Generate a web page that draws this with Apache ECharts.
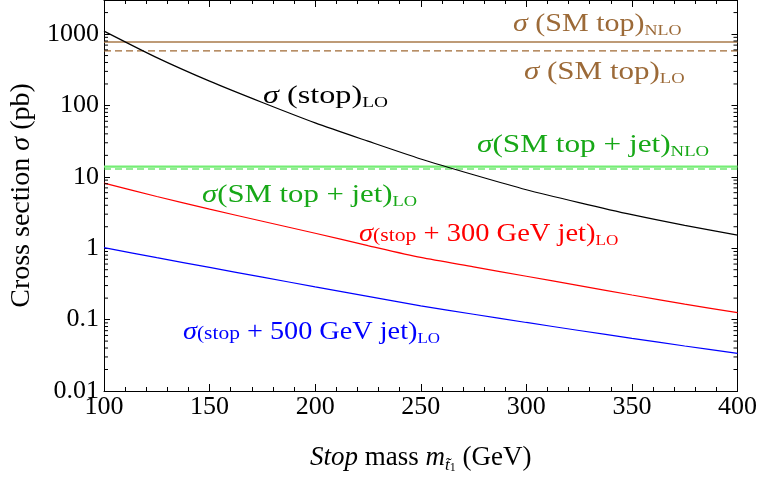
<!DOCTYPE html>
<html><head><meta charset="utf-8">
<script src="https://cdn.jsdelivr.net/npm/echarts@6/dist/echarts.min.js"></script>
<style>html,body{margin:0;padding:0;background:#fff}#c{width:760px;height:479px}</style>
</head><body><div id="c"></div>
<script>
// ---- data ----
const masses = [100,125,150,175,200,225,250,275,300,325,350,375,400];
const stopLO = [1100,468,219,110,57,31.6,17.8,10.7,6.6,4.36,2.95,2.09,1.53];
const stop300LO = [8.18,5.31,3.52,2.39,1.62,1.09,0.743,0.548,0.405,0.299,0.221,0.165,0.125];
const stop500LO = [1.02,0.738,0.538,0.393,0.288,0.212,0.156,0.119,0.0912,0.0704,0.0546,0.0427,0.0337];
const smTopNLO = 775;
const smTopLO = 580;
const smTopJetNLO = 13.9;
const smTopJetLO = 12.9;
const xRange = [100, 400];
const yRange = [0.01, 3000];
const yMajorTicks = [0.01, 0.1, 1, 10, 100, 1000];
const yMinorMultipliers = [2,3,4,5,6,7,8,9];
const yMinorTicks = [];
yMajorTicks.forEach(d => yMinorMultipliers.forEach(k => { const v = +(d*k).toPrecision(3); if (v < yRange[1]) yMinorTicks.push(v); }));

const F = 'Liberation Serif';
const BROWN = '#9c6a38', GREEN_T = '#17a817', RED = '#ff0000', BLUE = '#0000ff';

function rich(color) {
  return {
    s:   {fontFamily:F, fontStyle:'italic', fontSize:25, color, lineHeight:30},
    n:   {fontFamily:F, fontSize:25, color, lineHeight:30},
    m:   {fontFamily:F, fontSize:19, color, lineHeight:24, padding:[4,0,0,0]},
    sub: {fontFamily:F, fontSize:15, color, lineHeight:16, verticalAlign:'bottom'}
  };
}
function label(x, y, text, color, sx) {
  return {type:'text', x, y, scaleX:sx, silent:true, z:100,
    style:{text, rich:rich(color), align:'left', verticalAlign:'middle', fill:color, font:'25px ' + F}};
}
function pairs(ys) { return masses.map((m,i) => [m, ys[i]]); }
function hline(v) { return [[xRange[0], v], [xRange[1], v]]; }

const chart = echarts.init(document.getElementById('c'), null, {renderer:'canvas'});
const tickStyle = {color:'#000', width:1};
chart.setOption({
  animation:false,
  backgroundColor:'#fff',
  grid:{left:101, right:21, top:-1, bottom:86, containLabel:false},
  xAxis:[{
    type:'value', min:xRange[0], max:xRange[1], interval:50, position:'bottom',
    axisLine:{show:true, onZero:false, lineStyle:tickStyle},
    axisTick:{show:true, inside:true, length:7, lineStyle:tickStyle},
    minorTick:{show:true, splitNumber:5, length:4, lineStyle:tickStyle},
    splitLine:{show:false}, minorSplitLine:{show:false},
    axisLabel:{fontFamily:F, fontSize:26, color:'#000', margin:3},
    name:'{i|Stop} mass {i|m}{sub|t\u0303}{sub2|1} (GeV)',
    nameLocation:'middle', nameGap:51,
    nameTextStyle:{fontFamily:F, fontSize:27, color:'#000', lineHeight:32,
      rich:{i:{fontFamily:F, fontStyle:'italic', fontSize:27, lineHeight:32},
            sub:{fontFamily:F, fontStyle:'italic', fontSize:17, lineHeight:18, verticalAlign:'bottom'},
            sub2:{fontFamily:F, fontSize:12, lineHeight:9, verticalAlign:'bottom'}}}
  },{
    type:'value', min:xRange[0], max:xRange[1], interval:50, position:'top',
    axisLine:{show:true, onZero:false, lineStyle:tickStyle},
    axisTick:{show:true, inside:true, length:7, lineStyle:tickStyle},
    minorTick:{show:true, splitNumber:5, length:4, lineStyle:tickStyle},
    splitLine:{show:false}, axisLabel:{show:false}
  }],
  yAxis:[{
    type:'log', logBase:10, min:yRange[0], max:yRange[1], position:'left',
    axisLine:{show:true, onZero:false, lineStyle:tickStyle},
    axisTick:{show:true, inside:true, length:6, lineStyle:tickStyle},
    splitLine:{show:false},
    axisLabel:{fontFamily:F, fontSize:26, color:'#000', margin:5, showMaxLabel:false,
      formatter:v => yMajorTicks.indexOf(+v) >= 0 ? String(+v) : ''},
    name:'Cross section {i|σ} (pb)', nameLocation:'middle', nameGap:68, nameRotate:90,
    nameTextStyle:{fontFamily:F, fontSize:28, color:'#000',
      rich:{i:{fontFamily:F, fontStyle:'italic', fontSize:28}}}
  },{
    type:'log', logBase:10, min:yRange[0], max:yRange[1], position:'right',
    axisLine:{show:true, onZero:false, lineStyle:tickStyle},
    axisTick:{show:true, inside:true, length:6, lineStyle:tickStyle},
    splitLine:{show:false}, axisLabel:{show:false}
  }],
  series:[
    {type:'line', data:pairs(stopLO), smooth:0.25, showSymbol:false, lineStyle:{color:'#000', width:1.2}, z:5},
    {type:'line', data:pairs(stop300LO), smooth:0.25, showSymbol:false, lineStyle:{color:RED, width:1.2}, z:5},
    {type:'line', data:pairs(stop500LO), smooth:0.25, showSymbol:false, lineStyle:{color:BLUE, width:1.2}, z:5},
    {type:'line', data:hline(smTopNLO), showSymbol:false, lineStyle:{color:'#a87a4a', width:1.4}, z:4},
    {type:'line', data:hline(smTopLO), showSymbol:false, lineStyle:{color:'#a06a35', width:1.2, type:[7,4]}, z:4},
    {type:'line', data:hline(smTopJetNLO), showSymbol:false, lineStyle:{color:'#74ee74', width:2.2}, z:4},
    {type:'line', data:hline(smTopJetLO), showSymbol:false, lineStyle:{color:'#2ed82e', width:1.1, type:[7,4]}, z:4},
    {type:'custom', data:yMinorTicks.map(v => [xRange[0], v]), encode:{x:0, y:1}, silent:true, clip:false, z:6,
      renderItem:(params, api) => {
        const v = api.value(1);
        const pl = api.coord([xRange[0], v]);
        const pr = api.coord([xRange[1], v]);
        return {type:'group', children:[
          {type:'line', shape:{x1:pl[0], y1:pl[1], x2:pl[0]+4, y2:pl[1]}, style:{stroke:'#000', lineWidth:1}},
          {type:'line', shape:{x1:pr[0], y1:pr[1], x2:pr[0]-4, y2:pr[1]}, style:{stroke:'#000', lineWidth:1}}
        ]};
      }}
  ],
  graphic:[
    label(513, 24, '{s|σ} {n|(SM top)}{sub|NLO}', BROWN, 1.2),
    label(524, 72, '{s|σ} {n|(SM top)}{sub|LO}', BROWN, 1.24),
    label(263, 96, '{s|σ} {n|(stop)}{sub|LO}', '#000', 1.29),
    label(477, 145, '{s|σ}{n|(SM top + jet)}{sub|NLO}', GREEN_T, 1.25),
    label(202, 195, '{s|σ}{n|(SM top + jet)}{sub|LO}', GREEN_T, 1.23),
    label(359, 234, '{s|σ}{m|(stop}{n| + 300 GeV jet)}{sub|LO}', RED, 1.14),
    label(183, 332, '{s|σ}{m|(stop}{n| + 500 GeV jet)}{sub|LO}', BLUE, 1.13)
  ]
});
</script></body></html>
